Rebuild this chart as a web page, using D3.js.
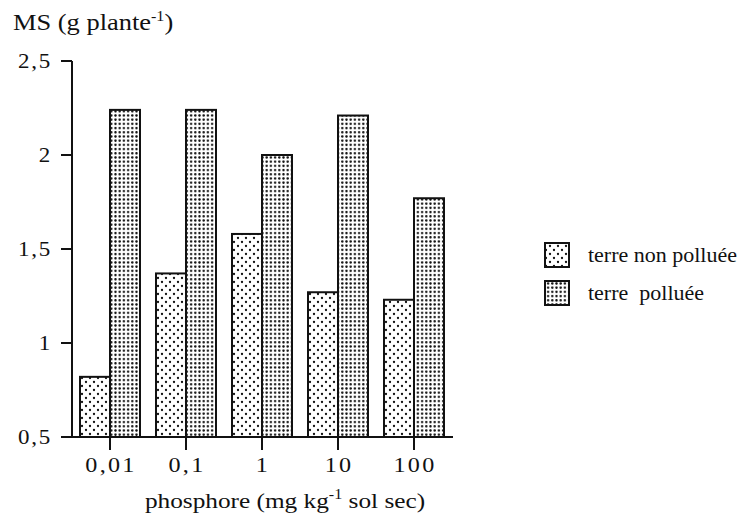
<!DOCTYPE html>
<html>
<head>
<meta charset="utf-8">
<script src="https://cdn.jsdelivr.net/npm/d3@7"></script>
<style>
  html, body { margin: 0; padding: 0; background: #fff; }
  svg text { font-family: "Liberation Serif", "Times New Roman", serif; fill: #111; }
</style>
</head>
<body>
<svg id="chart" width="743" height="516"></svg>
<script>
const categories = ["0,01", "0,1", "1", "10", "100"];
const seriesNames = ["terre non polluée", "terre  polluée"];
const nonPollue = [0.82, 1.37, 1.58, 1.27, 1.23];
const pollue = [2.24, 2.24, 2.00, 2.21, 1.77];
const yTicks = [0.5, 1, 1.5, 2, 2.5];
const yTickLabels = ["0,5", "1", "1,5", "2", "2,5"];

const svg = d3.select("#chart");
const ink = "#111";
const SX = 1.15;

// patterns
const defs = svg.append("defs");
const p1 = defs.append("pattern").attr("id", "sparse").attr("patternUnits", "userSpaceOnUse")
  .attr("width", 8).attr("height", 8);
p1.append("rect").attr("width", 8).attr("height", 8).attr("fill", "#fff");
p1.append("circle").attr("cx", 2).attr("cy", 2).attr("r", 1.15).attr("fill", ink);
p1.append("circle").attr("cx", 6).attr("cy", 6).attr("r", 1.15).attr("fill", ink);
const p2 = defs.append("pattern").attr("id", "dense").attr("patternUnits", "userSpaceOnUse")
  .attr("width", 4.2).attr("height", 4.2);
p2.append("rect").attr("width", 4.2).attr("height", 4.2).attr("fill", "#fff");
p2.append("circle").attr("cx", 2.1).attr("cy", 2.1).attr("r", 1.2).attr("fill", ink);
const fills = ["url(#sparse)", "url(#dense)"];

const x0 = d3.scaleBand().domain(categories).range([72, 452]).paddingInner(0).paddingOuter(0);
const barW = 30;
const y = d3.scaleLinear().domain([0.5, 2.5]).range([437, 61]);

function stext(g, x, yy, size, anchor, ls, sx) {
  return g.append("text")
    .attr("transform", `translate(${x},${yy}) scale(${sx || SX},1)`)
    .attr("font-size", size)
    .attr("letter-spacing", ls || 0)
    .attr("text-anchor", anchor || "start")
    .style("white-space", "pre");
}

// bars
const data = categories.map((c, i) => ({c, v: [nonPollue[i], pollue[i]]}));
const g = svg.append("g");
data.forEach(d => {
  const cx = x0(d.c) + x0.bandwidth() / 2;
  d.v.forEach((v, j) => {
    g.append("rect")
      .attr("x", j === 0 ? cx - barW : cx)
      .attr("y", y(v))
      .attr("width", barW)
      .attr("height", y(0.5) - y(v))
      .attr("fill", fills[j])
      .attr("stroke", ink)
      .attr("stroke-width", 2);
  });
});

// y axis
const yAxis = svg.append("g");
yAxis.append("line").attr("x1", 72).attr("x2", 72).attr("y1", y(0.5) + 1).attr("y2", y(2.5))
  .attr("stroke", ink).attr("stroke-width", 2);
yTicks.forEach((t, i) => {
  yAxis.append("line").attr("x1", 61).attr("x2", 72).attr("y1", y(t)).attr("y2", y(t))
    .attr("stroke", ink).attr("stroke-width", 2);
  stext(yAxis, 52, y(t) + 6.5, 20, "end", 1.5).text(yTickLabels[i]);
});

// x axis
const xAxis = svg.append("g");
xAxis.append("line").attr("x1", 61).attr("x2", 453).attr("y1", y(0.5)).attr("y2", y(0.5))
  .attr("stroke", ink).attr("stroke-width", 2);
categories.forEach(c => {
  const cx = x0(c) + x0.bandwidth() / 2;
  xAxis.append("line").attr("x1", cx).attr("x2", cx).attr("y1", y(0.5)).attr("y2", y(0.5) + 13)
    .attr("stroke", ink).attr("stroke-width", 2);
  stext(xAxis, cx + 1, 472, 21, "middle", 2).text(c);
});

// axis titles
const yt = stext(svg, 13, 30, 23, "start");
yt.append("tspan").text("MS (g plante");
yt.append("tspan").attr("font-size", 14).attr("dy", -9).text("-1");
yt.append("tspan").attr("dy", 9).text(")");

const xt = stext(svg, 285, 508, 22, "middle");
xt.append("tspan").text("phosphore (mg kg");
xt.append("tspan").attr("font-size", 14).attr("dy", -9).text("-1");
xt.append("tspan").attr("dy", 9).text(" sol sec)");

// legend
const leg = svg.append("g");
seriesNames.forEach((s, i) => {
  const ly = 255 + i * 38;
  leg.append("rect").attr("x", 545).attr("y", ly - 12).attr("width", 24).attr("height", 24)
    .attr("fill", fills[i]).attr("stroke", ink).attr("stroke-width", 2);
  stext(leg, 588, ly + 7, 20, "start", 0, 1.1).text(s);
});
</script>
</body>
</html>
